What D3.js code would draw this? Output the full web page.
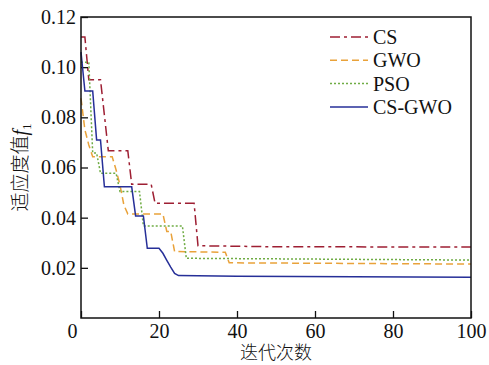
<!DOCTYPE html>
<html>
<head>
<meta charset="utf-8">
<script src="https://cdn.jsdelivr.net/npm/d3@7"></script>
<style>
  html, body { margin: 0; padding: 0; background: #fff; }
  svg { display: block; }
  text { font-family: "Liberation Serif", "Times New Roman", serif; fill: #111; }
</style>
</head>
<body>
<svg id="chart" width="489" height="365"></svg>
<script>
// ---- data ----
const seriesNames = ["CS", "GWO", "PSO", "CS-GWO"];

const iterCS = [0, 1, 2, 5, 7, 12, 13, 18, 19, 29, 30, 50, 100];
const valCS  = [0.112, 0.112, 0.095, 0.095, 0.0667, 0.0667, 0.0533, 0.0533, 0.0457, 0.0457, 0.0288, 0.0284, 0.0283];

const iterGWO = [0, 1, 2, 3, 8, 9, 10, 11, 12, 21, 22, 23, 24, 37, 38, 100];
const valGWO  = [0.0876, 0.075, 0.069, 0.0643, 0.0643, 0.059, 0.053, 0.045, 0.0415, 0.0415, 0.0345, 0.0345, 0.0265, 0.0262, 0.022, 0.0215];

const iterPSO = [0, 2, 3, 4, 5, 9, 10, 15, 16, 26, 27, 100];
const valPSO  = [0.102, 0.102, 0.0658, 0.0658, 0.0577, 0.0577, 0.0504, 0.0504, 0.0367, 0.0367, 0.0238, 0.0231];

const iterCSGWO = [0, 1, 3, 4, 5, 6, 13, 14, 16, 17, 20, 21, 22, 23, 24, 25, 40, 100];
const valCSGWO  = [0.106, 0.0905, 0.0905, 0.071, 0.071, 0.0523, 0.0523, 0.0407, 0.0407, 0.0278, 0.0278, 0.0258, 0.023, 0.0203, 0.0178, 0.0169, 0.0166, 0.0162];

const xTicks = [0, 20, 40, 60, 80, 100];
const yTicks = [0.02, 0.04, 0.06, 0.08, 0.10, 0.12];
const xTitle = "迭代次数";
const yTitle = "适应度值";

// ---- styles ----
const styles = {
  "CS":     { color: "#9e1f33", dash: "10,4,3,4" },
  "GWO":    { color: "#e9a23a", dash: "7,4" },
  "PSO":    { color: "#6fac44", dash: "2,2" },
  "CS-GWO": { color: "#262f98", dash: null }
};

const series = [
  { name: seriesNames[0], it: iterCS, v: valCS },
  { name: seriesNames[1], it: iterGWO, v: valGWO },
  { name: seriesNames[2], it: iterPSO, v: valPSO },
  { name: seriesNames[3], it: iterCSGWO, v: valCSGWO }
];

const svg = d3.select("#chart");
const L = 81, R = 471, T = 17, B = 318;
const x = d3.scaleLinear().domain([0, 100]).range([L, R]);
const y = d3.scaleLinear().domain([0, 0.12]).range([B, T]);

// axes
const gx = svg.append("g").attr("transform", `translate(0,${B})`)
  .call(d3.axisBottom(x).tickValues(xTicks).tickSize(-7).tickPadding(6).tickFormat(d3.format("d")));
const gy = svg.append("g").attr("transform", `translate(${L},0)`)
  .call(d3.axisLeft(y).tickValues(yTicks).tickSize(-7).tickPadding(5).tickFormat(d3.format(".2f")));
[gx, gy].forEach(g => {
  g.select(".domain").remove();
  g.selectAll(".tick line").attr("stroke", "#111").attr("stroke-width", 1.3);
  g.selectAll(".tick text").attr("font-size", 20).attr("font-family", "Liberation Serif").attr("fill", "#111");
});
gx.selectAll(".tick").filter(d => d === 0).select("text").attr("dx", -9);

// lines
const line = d3.line().x(d => x(d[0])).y(d => y(d[1]));
series.forEach(s => {
  const pts = s.it.map((t, i) => [t, s.v[i]]);
  const st = styles[s.name];
  svg.append("path").datum(pts)
    .attr("d", line)
    .attr("fill", "none")
    .attr("stroke", st.color)
    .attr("stroke-width", 1.5)
    .attr("stroke-dasharray", st.dash);
});

// frame
svg.append("rect").attr("x", L).attr("y", T).attr("width", R - L).attr("height", B - T)
  .attr("fill", "none").attr("stroke", "#111").attr("stroke-width", 1.5);

// legend
const lg = svg.append("g");
series.forEach((s, i) => {
  const yy = 37 + i * 23.3;
  const st = styles[s.name];
  lg.append("line").attr("x1", 330).attr("x2", 368).attr("y1", yy).attr("y2", yy)
    .attr("stroke", st.color).attr("stroke-width", 1.5).attr("stroke-dasharray", st.dash);
  lg.append("text").attr("x", 373).attr("y", yy + 7).attr("font-size", 20).text(s.name);
});

// axis titles
svg.append("text").attr("x", 276).attr("y", 359).attr("text-anchor", "middle")
  .attr("font-size", 18).style("font-family", "'Noto Sans CJK SC'")
  .attr("font-weight", 300).text(xTitle);

const yt = svg.append("text").attr("transform", `translate(27,${(T + B) / 2}) rotate(-90)`)
  .attr("text-anchor", "middle").attr("font-size", 19);
yt.append("tspan").style("font-family", "'Noto Sans CJK SC'").attr("font-weight", 300).text(yTitle);
yt.append("tspan").style("font-style", "italic").style("font-family", "'Liberation Serif'").attr("font-size", 20).text("f");
yt.append("tspan").style("font-family", "'Liberation Serif'").attr("font-size", 13).attr("dy", 4).text("1");
</script>
</body>
</html>
